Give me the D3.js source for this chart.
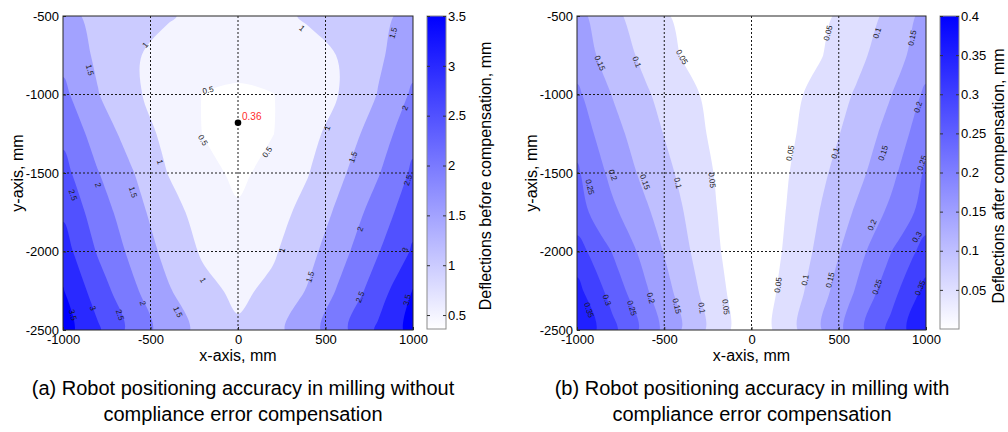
<!DOCTYPE html>
<html>
<head>
<meta charset="utf-8">
<script src="https://cdn.jsdelivr.net/npm/d3@7"></script>
<style>
  body { margin: 0; background: #fff; }
  svg text { font-family: "Liberation Sans", Arial, sans-serif; fill: #000; }
</style>
</head>
<body>
<svg id="chart" width="1008" height="432"></svg>
<script>
// grid nodes (mm)
var xGrid = [-1000, -800, -600, -400, -200, 0, 200, 400, 600, 800, 1000];
var yGrid = [-500, -750, -1000, -1250, -1500, -1750, -2000, -2250, -2500];

var xTicks = [-1000, -500, 0, 500, 1000];
var yTicks = [-500, -1000, -1500, -2000, -2500];

// deflections before compensation, mm (rows follow yGrid, columns xGrid)
var before = [
  [1.60, 1.41, 1.22, 1.03, 0.91, 0.80, 0.91, 1.04, 1.23, 1.42, 1.60],
  [1.85, 1.41, 1.04, 0.88, 0.75, 0.62, 0.75, 0.88, 1.03, 1.42, 1.81],
  [2.12, 1.52, 1.08, 0.78, 0.49, 0.45, 0.49, 0.75, 1.04, 1.52, 2.08],
  [2.39, 1.78, 1.28, 0.86, 0.49, 0.37, 0.49, 0.84, 1.26, 1.74, 2.34],
  [2.66, 2.02, 1.52, 0.99, 0.66, 0.40, 0.66, 0.98, 1.45, 1.96, 2.59],
  [2.93, 2.24, 1.70, 1.18, 0.82, 0.56, 0.82, 1.15, 1.66, 2.23, 2.81],
  [3.22, 2.45, 1.87, 1.35, 0.94, 0.74, 0.94, 1.34, 1.88, 2.47, 3.06],
  [3.53, 2.75, 2.09, 1.55, 1.14, 0.90, 1.11, 1.54, 2.13, 2.75, 3.52],
  [3.72, 3.07, 2.32, 1.76, 1.35, 1.07, 1.36, 1.78, 2.40, 3.08, 3.67]
];

// deflections after compensation, mm
var after = [
  [0.166, 0.114, 0.071, 0.040, 0.026, 0.010, 0.026, 0.040, 0.071, 0.114, 0.166],
  [0.176, 0.129, 0.086, 0.048, 0.029, 0.010, 0.029, 0.048, 0.086, 0.129, 0.176],
  [0.209, 0.149, 0.105, 0.066, 0.035, 0.010, 0.035, 0.066, 0.105, 0.149, 0.209],
  [0.230, 0.168, 0.120, 0.077, 0.039, 0.010, 0.039, 0.077, 0.120, 0.168, 0.230],
  [0.257, 0.187, 0.135, 0.091, 0.046, 0.010, 0.046, 0.091, 0.135, 0.187, 0.257],
  [0.270, 0.211, 0.156, 0.103, 0.051, 0.010, 0.051, 0.103, 0.156, 0.211, 0.270],
  [0.321, 0.249, 0.180, 0.115, 0.056, 0.010, 0.056, 0.115, 0.180, 0.249, 0.321],
  [0.365, 0.281, 0.204, 0.132, 0.066, 0.010, 0.066, 0.132, 0.204, 0.281, 0.365],
  [0.394, 0.315, 0.230, 0.149, 0.077, 0.010, 0.077, 0.149, 0.230, 0.315, 0.394]
];

var levelsBefore = [0.5, 1, 1.5, 2, 2.5, 3, 3.5];
var levelsAfter = [0.05, 0.1, 0.15, 0.2, 0.25, 0.3, 0.35, 0.4];
var cbTicksBefore = [0.5, 1, 1.5, 2, 2.5, 3, 3.5];
var cbTicksAfter = [0.05, 0.1, 0.15, 0.2, 0.25, 0.3, 0.35, 0.4];

// contour label anchors [x mm, y mm, text]
var labelsBefore = [
  [-531, -685, "1"], [-846, -844, "1.5"], [-171, -971, "0.5"], [-200, -1290, "0.5"],
  [166, -1366, "0.5"], [-446, -1430, "1"], [-800, -1576, "2"], [-943, -1640, "2.5"],
  [-600, -1621, "1.5"], [366, -578, "1"], [886, -608, "1.5"], [954, -1086, "2"],
  [509, -1213, "1"], [657, -1398, "1.5"], [971, -1545, "2.5"], [697, -1857, "2"],
  [251, -1990, "1"], [954, -1990, "3"], [411, -2162, "1.5"], [697, -2290, "2.5"],
  [966, -2309, "3.5"], [-200, -2182, "1"], [-543, -2328, "2"], [-343, -2385, "1.5"],
  [-829, -2360, "3"], [-674, -2404, "2.5"], [-943, -2404, "3.5"]
];
var labelsAfter = [
  [-868, -799, "0.15"], [-656, -793, "0.1"], [-398, -761, "0.05"],
  [-794, -1513, "0.2"], [-610, -1557, "0.15"], [-421, -1564, "0.1"], [-226, -1545, "0.05"],
  [-926, -1589, "0.25"], [-931, -2373, "0.35"], [-828, -2309, "0.3"], [-685, -2360, "0.25"],
  [-576, -2296, "0.2"], [-427, -2347, "0.15"], [-284, -2360, "0.1"], [-146, -2353, "0.05"],
  [438, -608, "0.05"], [719, -608, "0.1"], [920, -640, "0.15"], [954, -1080, "0.2"],
  [221, -1373, "0.05"], [479, -1373, "0.1"], [754, -1373, "0.15"], [977, -1436, "0.25"],
  [691, -1831, "0.2"], [948, -1908, "0.3"], [152, -2213, "0.05"], [307, -2182, "0.1"],
  [450, -2182, "0.15"], [719, -2226, "0.25"], [966, -2232, "0.35"]
];

var minPoint = [0, -1180, "0.36"];

var svg = d3.select("#chart");
var defs = svg.append("defs");
var plain = function(d) { return String(d); };

function drawPanel(o) {
  var top = 16, bottom = 330;
  var x = d3.scaleLinear().domain([-1000, 1000]).range([o.x0, o.x1]);
  var y = d3.scaleLinear().domain([-500, -2500]).range([top, bottom]);
  var color = d3.scaleLinear().domain(o.cdomain).range(["#ffffff", "#0000ff"]).clamp(true);
  var n = xGrid.length, m = yGrid.length;

  // contour grid coords -> mm (samples sit at i + 0.5)
  var gx = d3.scaleLinear().domain([0.5, n - 0.5]).range([xGrid[0], xGrid[n - 1]]);
  var gy = d3.scaleLinear().domain([0.5, m - 0.5]).range([yGrid[0], yGrid[m - 1]]);

  defs.append("clipPath").attr("id", "clip-" + o.id)
    .append("rect")
      .attr("x", o.x0).attr("y", top)
      .attr("width", o.x1 - o.x0).attr("height", bottom - top);

  var g = svg.append("g");
  var plot = g.append("g").attr("clip-path", "url(#clip-" + o.id + ")");

  plot.append("rect")
      .attr("x", o.x0).attr("y", top)
      .attr("width", o.x1 - o.x0).attr("height", bottom - top)
      .attr("fill", color(o.cdomain[0]));

  var bands = d3.contours().size([n, m]).thresholds(o.levels)(d3.merge(o.rows));
  var ring = d3.line()
      .x(function(p) { return x(gx(p[0])); })
      .y(function(p) { return y(gy(p[1])); })
      .curve(d3.curveCatmullRomClosed.alpha(0.5));

  plot.selectAll("path.band")
    .data(bands)
    .join("path")
      .attr("class", "band")
      .attr("fill-rule", "evenodd")
      .attr("fill", function(b) { return color(b.value); })
      .attr("d", function(b) {
        return b.coordinates.map(function(poly) {
          return poly.map(function(r) { return ring(r.slice(0, -1)); }).join("");
        }).join("");
      });

  // dotted grid
  plot.selectAll("line.gx")
    .data(xTicks.slice(1, -1))
    .join("line")
      .attr("x1", x).attr("x2", x).attr("y1", top).attr("y2", bottom)
      .attr("stroke", "#1a1a1a").attr("stroke-dasharray", "2,2").attr("stroke-width", 1);
  plot.selectAll("line.gy")
    .data(yTicks.slice(1, -1))
    .join("line")
      .attr("y1", y).attr("y2", y).attr("x1", o.x0).attr("x2", o.x1)
      .attr("stroke", "#1a1a1a").attr("stroke-dasharray", "2,2").attr("stroke-width", 1);

  // contour labels, turned along the local contour direction
  var sx = d3.scaleLinear().domain([xGrid[0], xGrid[n - 1]]).range([0, n - 1]).clamp(true);
  var sy = d3.scaleLinear().domain([yGrid[0], yGrid[m - 1]]).range([0, m - 1]).clamp(true);
  function valueAt(xv, yv) {
    var c = sx(xv), r = sy(yv);
    var i = Math.min(Math.floor(c), n - 2), j = Math.min(Math.floor(r), m - 2);
    var fc = c - i, fr = r - j, R = o.rows;
    return (R[j][i] * (1 - fc) + R[j][i + 1] * fc) * (1 - fr) +
           (R[j + 1][i] * (1 - fc) + R[j + 1][i + 1] * fc) * fr;
  }
  function angle(d) {
    var px = x(d[0]), py = y(d[1]);
    var dx = valueAt(x.invert(px + 2), d[1]) - valueAt(x.invert(px - 2), d[1]);
    var dy = valueAt(d[0], y.invert(py + 2)) - valueAt(d[0], y.invert(py - 2));
    var a = Math.atan2(dy, dx) * 180 / Math.PI + 90;
    while (a > 90) a -= 180;
    while (a <= -90) a += 180;
    return a;
  }
  plot.selectAll("text.clabel")
    .data(o.labels)
    .join("text")
      .attr("class", "clabel")
      .attr("transform", function(d) {
        return "translate(" + x(d[0]) + "," + y(d[1]) + ") rotate(" + angle(d) + ")";
      })
      .attr("text-anchor", "middle")
      .attr("dy", "0.35em")
      .style("font-size", "8px")
      .style("fill", "#1a1a1a")
      .text(function(d) { return d[2]; });

  if (o.marker) {
    g.append("circle")
        .attr("cx", x(o.marker[0])).attr("cy", y(o.marker[1])).attr("r", 3.3)
        .attr("fill", "#000");
    g.append("text")
        .attr("x", x(o.marker[0]) + 4).attr("y", y(o.marker[1]) - 2.5)
        .style("font-size", "10px").style("fill", "#ff2a2a")
        .text(o.marker[2]);
  }

  // frame and axes
  g.append("rect")
      .attr("x", o.x0).attr("y", top)
      .attr("width", o.x1 - o.x0).attr("height", bottom - top)
      .attr("fill", "none").attr("stroke", "#262626").attr("stroke-width", 1);

  var ax = g.append("g")
      .attr("transform", "translate(0," + bottom + ")")
      .call(d3.axisBottom(x).tickValues(xTicks).tickFormat(plain)
        .tickSizeInner(-3).tickSizeOuter(0).tickPadding(5));
  var ay = g.append("g")
      .attr("transform", "translate(" + o.x0 + ",0)")
      .call(d3.axisLeft(y).tickValues(yTicks).tickFormat(plain)
        .tickSizeInner(-3).tickSizeOuter(0).tickPadding(4));
  [ax, ay].forEach(function(a) {
    a.select(".domain").remove();
    a.selectAll(".tick line").attr("stroke", "#262626");
    a.selectAll(".tick text").style("font-size", "13px").attr("fill", "#000");
  });

  g.append("text")
      .attr("x", (o.x0 + o.x1) / 2).attr("y", 361)
      .attr("text-anchor", "middle")
      .style("font-size", "16px")
      .text("x-axis, mm");
  g.append("text")
      .attr("transform", "translate(" + (o.x0 - 46) + "," + 173 + ") rotate(-90)")
      .attr("text-anchor", "middle").attr("dy", "0.35em")
      .style("font-size", "16px")
      .text("y-axis, mm");

  // colorbar
  var cb0 = o.x1 + 14, cbW = 19, cbTop = 16, cbBot = 329;
  var cs = d3.scaleLinear().domain(o.cdomain).range([cbBot, cbTop]);
  var grad = defs.append("linearGradient").attr("id", "grad-" + o.id)
      .attr("x1", 0).attr("x2", 0).attr("y1", 1).attr("y2", 0);
  grad.selectAll("stop")
    .data(o.cdomain)
    .join("stop")
      .attr("offset", function(d, i) { return i; })
      .attr("stop-color", color);
  g.append("rect")
      .attr("x", cb0).attr("y", cbTop).attr("width", cbW).attr("height", cbBot - cbTop)
      .attr("fill", "url(#grad-" + o.id + ")")
      .attr("stroke", "#8c8c8c").attr("stroke-width", 1);
  var cr = g.append("g")
      .attr("transform", "translate(" + (cb0 + cbW) + ",0)")
      .call(d3.axisRight(cs).tickValues(o.cbTicks).tickFormat(plain)
        .tickSizeInner(-3).tickSizeOuter(0).tickPadding(2));
  var cl = g.append("g")
      .attr("transform", "translate(" + cb0 + ",0)")
      .call(d3.axisLeft(cs).tickValues(o.cbTicks).tickSizeInner(-3).tickSizeOuter(0).tickFormat(""));
  [cr, cl].forEach(function(a) {
    a.select(".domain").remove();
    a.selectAll(".tick line").attr("stroke", "#333");
    a.selectAll(".tick text").style("font-size", "13px").attr("fill", "#000");
  });
  g.append("text")
      .attr("transform", "translate(" + (cb0 + cbW + 39) + "," + 176 + ") rotate(-90)")
      .attr("text-anchor", "middle").attr("dy", "0.35em")
      .style("font-size", "16px")
      .text(o.cbLabel);

  // caption
  var cap = g.append("text")
      .attr("text-anchor", "middle")
      .style("font-size", "20px");
  cap.selectAll("tspan")
    .data(o.caption)
    .join("tspan")
      .attr("x", o.capX)
      .attr("y", function(d, i) { return 395 + i * 26; })
      .text(function(d) { return d; });
}

drawPanel({
  id: "a", x0: 63, x1: 413, rows: before, levels: levelsBefore,
  cdomain: [0.36, 3.5], cbTicks: cbTicksBefore, labels: labelsBefore, marker: minPoint,
  cbLabel: "Deflections before compensation, mm", capX: 243,
  caption: ["(a) Robot positioning accuracy in milling without", "compliance error compensation"]
});
drawPanel({
  id: "b", x0: 577, x1: 926, rows: after, levels: levelsAfter,
  cdomain: [0, 0.4], cbTicks: cbTicksAfter, labels: labelsAfter, marker: null,
  cbLabel: "Deflections after compensation, mm", capX: 752,
  caption: ["(b) Robot positioning accuracy in milling with", "compliance error compensation"]
});
</script>
</body>
</html>
